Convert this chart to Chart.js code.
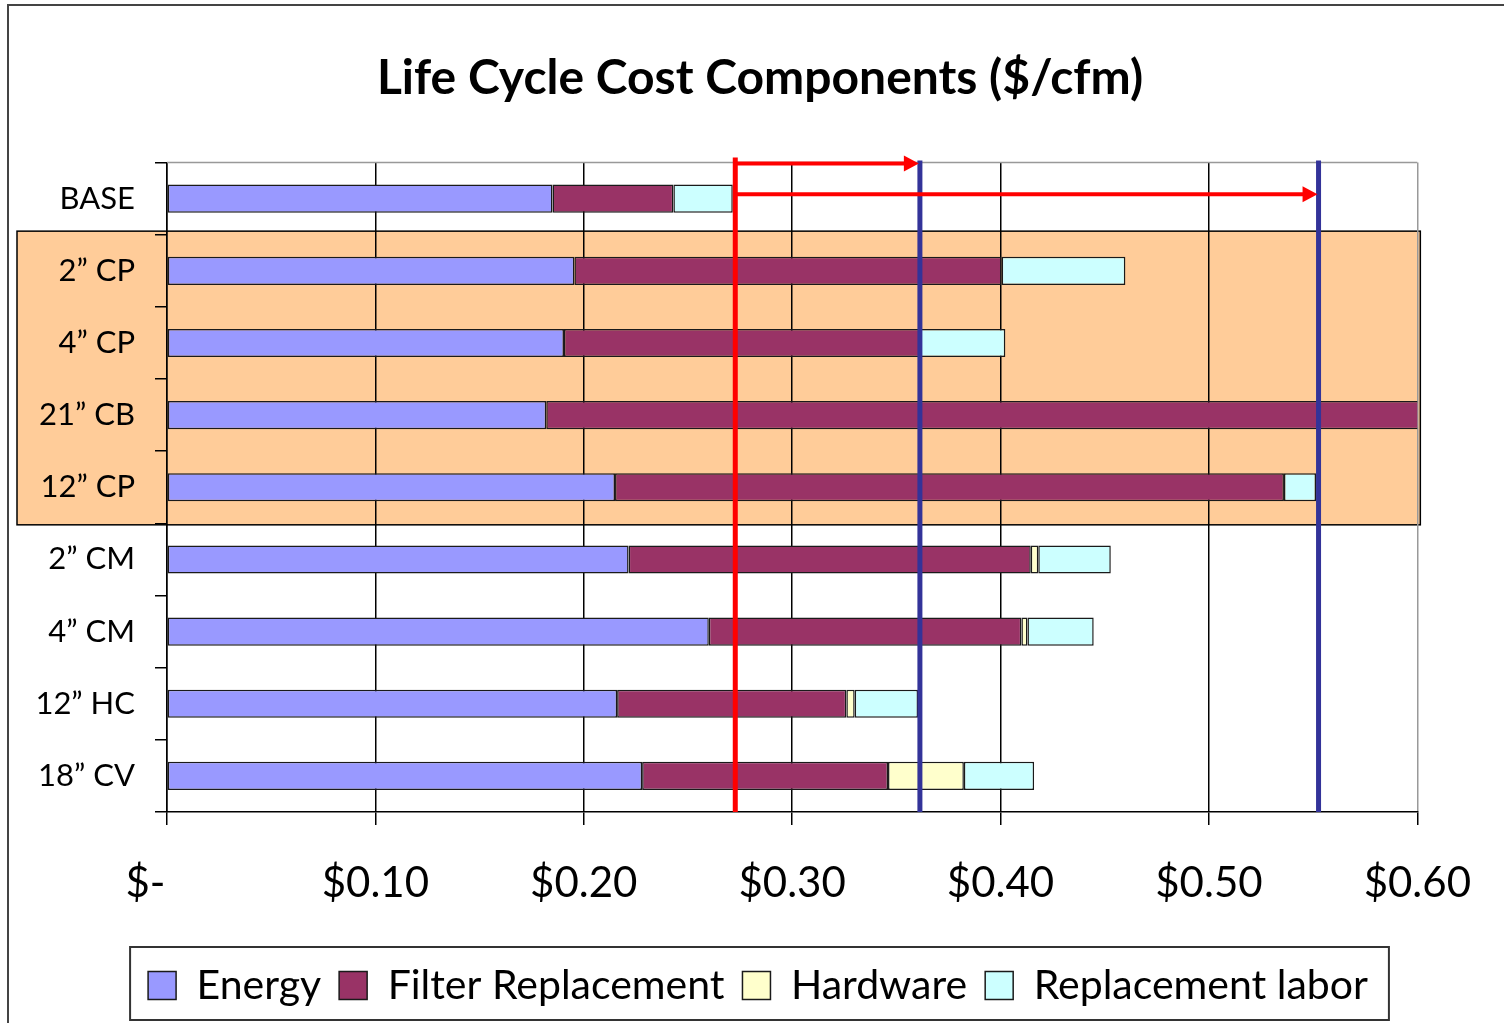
<!DOCTYPE html>
<html>
<head>
<meta charset="utf-8">
<script src="https://cdn.jsdelivr.net/npm/chart.js@4"></script>
<style>
  html, body { margin: 0; padding: 0; background: #fff; }
  #wrap { width: 1504px; height: 1023px; position: relative; }
</style>
</head>
<body>
<div id="wrap"><canvas id="lcc"></canvas></div>
<script>
// values, $/cfm per component
const categories = ['BASE', '2\u201D CP', '4\u201D CP', '21\u201D CB', '12\u201D CP', '2\u201D CM', '4\u201D CM', '12\u201D HC', '18\u201D CV'];
const energy   = [0.185, 0.1955, 0.1905, 0.182, 0.215, 0.2215, 0.260, 0.216, 0.228];
const filterRp = [0.058, 0.205, 0.171, 0.450, 0.321, 0.193, 0.150, 0.110, 0.118];
const hardware = [0, 0, 0, 0, 0, 0.0036, 0.0029, 0.004, 0.0364];
const labor    = [0.0285, 0.0594, 0.0408, 0, 0.0154, 0.0348, 0.0318, 0.0304, 0.0337];

const xTicks = [0, 0.1, 0.2, 0.3, 0.4, 0.5, 0.6];
const baseLine = 0.2727;           // red marker (BASE total)
const targetLines = [0.3613, 0.5526]; // blue markers
const highlightRows = [1, 4];      // orange band, first..last row

const FONT = 'Lato, Calibri, sans-serif';

// orange band behind the filter-media rows, outer frame, markers, legend frame
const decorPlugin = {
  id: 'decor',
  afterLayout(chart) {
    // centre title and legend on the whole canvas, not just the padded box
    chart.titleBlock.left = 16;
    chart.titleBlock.right = chart.width;
    chart.legend.left = 12;
    chart.legend.right = chart.width;
  },
  beforeDraw(chart) {
    const { ctx, chartArea, scales: { x, y } } = chart;
    const top = y.getPixelForValue(highlightRows[0] - 0.55);
    const bottom = y.getPixelForValue(highlightRows[1] + 0.52);
    ctx.save();
    ctx.fillStyle = '#FFCC99';
    ctx.fillRect(17, top, chartArea.right + 3 - 17, bottom - top);
    ctx.strokeStyle = '#000';
    ctx.lineWidth = 1.5;
    ctx.strokeRect(17, top, chartArea.right + 3 - 17, bottom - top);
    ctx.restore();
  },
  afterDatasetsDraw(chart) {
    const { ctx, chartArea, scales: { x, y } } = chart;
    ctx.save();
    // plot border (top)
    ctx.strokeStyle = '#999';
    ctx.lineWidth = 1.5;
    ctx.beginPath();
    ctx.moveTo(chartArea.left, chartArea.top);
    ctx.lineTo(chartArea.right, chartArea.top);
    ctx.stroke();

    // blue vertical lines
    ctx.strokeStyle = '#333399';
    ctx.lineWidth = 5;
    targetLines.forEach(v => {
      const px = x.getPixelForValue(v);
      ctx.beginPath();
      ctx.moveTo(px, chartArea.top - 2);
      ctx.lineTo(px, chartArea.bottom);
      ctx.stroke();
    });

    // red vertical line
    const rx = x.getPixelForValue(baseLine);
    ctx.strokeStyle = '#FF0000';
    ctx.beginPath();
    ctx.moveTo(rx, chartArea.top - 5);
    ctx.lineTo(rx, chartArea.bottom);
    ctx.stroke();

    // arrows from red line to each blue line
    const arrowRows = [-0.5, -0.06];
    ctx.fillStyle = '#FF0000';
    ctx.lineWidth = 4;
    targetLines.forEach((v, i) => {
      const ay = y.getPixelForValue(arrowRows[i]) + (i === 0 ? 1 : 0);
      const tip = x.getPixelForValue(v) - 1;
      ctx.beginPath();
      ctx.moveTo(rx, ay);
      ctx.lineTo(tip - 12, ay);
      ctx.stroke();
      ctx.beginPath();
      ctx.moveTo(tip, ay);
      ctx.lineTo(tip - 15, ay - 8);
      ctx.lineTo(tip - 15, ay + 8);
      ctx.closePath();
      ctx.fill();
    });
    ctx.restore();
  },
  afterDraw(chart) {
    const { ctx, legend } = chart;
    ctx.save();
    // outer frame (top + left visible)
    ctx.strokeStyle = '#444';
    ctx.lineWidth = 2;
    ctx.beginPath();
    ctx.moveTo(8, chart.height);
    ctx.lineTo(8, 5);
    ctx.lineTo(chart.width, 5);
    ctx.stroke();

    // legend frame
    const boxes = legend.legendHitBoxes;
    if (boxes && boxes.length) {
      const first = boxes[0];
      const last = boxes[boxes.length - 1];
      const l = first.left - 18;
      const r = last.left + last.width + 21;
      const t = first.top - 18;
      const b = first.top + first.height + 14;
      ctx.strokeStyle = '#333';
      ctx.lineWidth = 2;
      ctx.strokeRect(l, t, r - l, b - t);
    }
    ctx.restore();
  }
};

const segment = (label, data, color) => ({
  label,
  data,
  backgroundColor: color,
  borderColor: '#1a1a1a',
  borderWidth: 1.5,
  borderSkipped: false,
  barPercentage: 0.39,
  categoryPercentage: 1.0,
});

new Chart(document.getElementById('lcc'), {
  type: 'bar',
  data: {
    labels: categories,
    datasets: [
      segment('Energy', energy, '#9999FF'),
      segment('Filter Replacement', filterRp, '#993366'),
      segment('Hardware', hardware, '#FFFFCC'),
      segment('Replacement labor', labor, '#CCFFFF'),
    ],
  },
  options: {
    indexAxis: 'y',
    responsive: true,
    maintainAspectRatio: false,
    animation: false,
    layout: { padding: { left: 0, right: 79, top: 0, bottom: 7 } },
    plugins: {
      title: {
        display: true,
        text: 'Life Cycle Cost Components ($/cfm)',
        color: '#000',
        font: { family: FONT, size: 48, weight: 'bold', lineHeight: 1.2 },
        padding: { top: 50, bottom: 55 },
      },
      legend: {
        position: 'bottom',
        labels: {
          color: '#000',
          font: { family: FONT, size: 41 },
          boxWidth: 28,
          boxHeight: 28,
          padding: 18,
        },
      },
      tooltip: { enabled: false },
    },
    scales: {
      x: {
        stacked: true,
        min: 0,
        max: 0.6,
        afterBuildTicks: (s) => { s.ticks = xTicks.map(v => ({ value: v })); },
        afterFit: (s) => { s.height = 135; },
        ticks: {
          color: '#000',
          font: { family: FONT, size: 42 },
          padding: 33,
          maxRotation: 0,
          callback: (v) => v === 0 ? '$-\u00a0\u00a0\u00a0\u00a0' : '$' + Number(v).toFixed(2),
        },
        grid: {
          color: (c) => c.index === xTicks.length - 1 ? '#999' : '#000',
          lineWidth: 1.5,
          tickLength: 13,
          tickColor: '#000',
        },
        border: { color: '#000', width: 1.5 },
      },
      y: {
        stacked: true,
        afterFit: (s) => { s.width = 167; },
        ticks: {
          color: '#000',
          font: { family: FONT, size: 31 },
          padding: 20,
        },
        grid: {
          drawOnChartArea: false,
          tickLength: 12,
          tickColor: '#000',
          lineWidth: 1.5,
        },
        border: { color: '#000', width: 1.5 },
      },
    },
  },
  plugins: [decorPlugin],
});
</script>
</body>
</html>
